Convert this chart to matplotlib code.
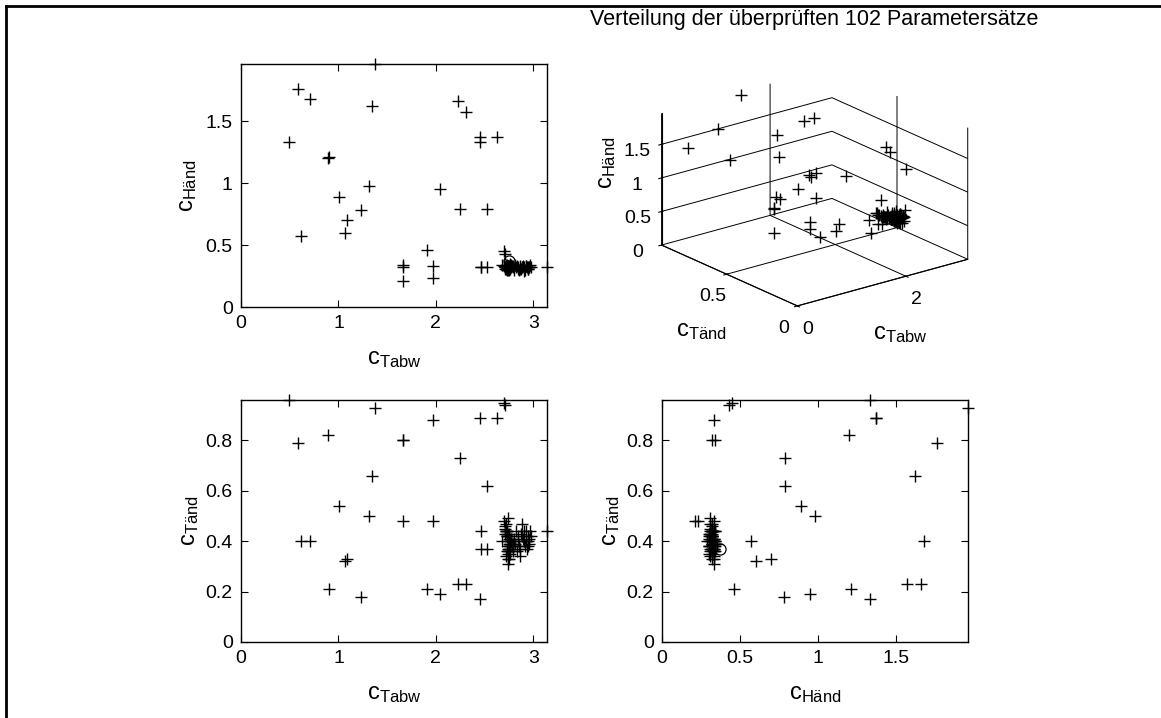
import matplotlib
matplotlib.use("Agg")
import matplotlib.pyplot as plt
from matplotlib.lines import Line2D
import numpy as np

plt.rcParams['font.family'] = ['Liberation Sans', 'DejaVu Sans']
plt.rcParams['mathtext.fontset'] = 'custom'
plt.rcParams['mathtext.rm'] = 'Liberation Sans'
plt.rcParams['grid.color'] = 'k'
plt.rcParams['grid.linewidth'] = 0.7
plt.rcParams['grid.linestyle'] = '-'

# scattered parameter sets (c_Tabw, c_Händ, c_Tänd)
spread_tabw = [1.38, 0.59, 0.71, 1.34, 0.49, 0.89, 0.90, 1.31, 1.01, 1.23,
               1.09, 1.07, 0.62, 2.23, 2.31, 2.45, 2.45, 2.63, 2.04, 2.25,
               2.52, 1.91, 1.66, 1.66, 1.66, 1.97, 1.97, 2.70, 2.71, 2.46,
               2.46, 2.52, 3.14]
spread_hand = [1.96, 1.76, 1.68, 1.62, 1.33, 1.20, 1.21, 0.98, 0.89, 0.78,
               0.70, 0.60, 0.57, 1.66, 1.57, 1.37, 1.33, 1.37, 0.95, 0.79,
               0.79, 0.46, 0.34, 0.32, 0.21, 0.33, 0.23, 0.45, 0.43, 0.32,
               0.32, 0.32, 0.32]
spread_tand = [0.93, 0.79, 0.40, 0.66, 0.96, 0.82, 0.21, 0.50, 0.54, 0.18,
               0.33, 0.32, 0.40, 0.23, 0.23, 0.89, 0.17, 0.89, 0.19, 0.73,
               0.62, 0.21, 0.80, 0.80, 0.48, 0.88, 0.48, 0.95, 0.94, 0.44,
               0.37, 0.37, 0.44]

# dense group of parameter sets
cluster_tabw = [2.72, 2.74, 2.75, 2.73, 2.76, 2.71, 2.74, 2.77, 2.75, 2.73,
                2.70, 2.74, 2.76, 2.72, 2.75, 2.78, 2.73, 2.74, 2.71, 2.76,
                2.75, 2.73, 2.74, 2.77, 2.72, 2.75, 2.76, 2.74, 2.73, 2.79,
                2.68, 2.74, 2.75, 2.72, 2.76, 2.80, 2.74, 2.73, 2.75, 2.77,
                2.71, 2.74, 2.76, 2.82, 2.84, 2.86, 2.88, 2.85, 2.90, 2.92,
                2.94, 2.96, 2.97, 2.93, 2.89, 2.87, 2.95, 2.91, 2.83, 2.98,
                2.86, 2.92, 2.96, 2.81, 2.88, 2.94, 2.79, 2.84, 2.90]
cluster_hand = [0.32, 0.33, 0.31, 0.32, 0.34, 0.32, 0.30, 0.33, 0.32, 0.31,
                0.33, 0.32, 0.31, 0.34, 0.32, 0.33, 0.30, 0.32, 0.31, 0.33,
                0.32, 0.34, 0.31, 0.32, 0.33, 0.30, 0.32, 0.33, 0.31, 0.32,
                0.34, 0.32, 0.33, 0.31, 0.32, 0.30, 0.33, 0.32, 0.31, 0.34,
                0.32, 0.33, 0.35, 0.32, 0.31, 0.33, 0.32, 0.30, 0.32, 0.33,
                0.31, 0.32, 0.34, 0.32, 0.33, 0.31, 0.32, 0.30, 0.33, 0.32,
                0.31, 0.33, 0.32, 0.34, 0.32, 0.31, 0.33, 0.32, 0.29]
cluster_tand = [0.44, 0.40, 0.37, 0.42, 0.38, 0.46, 0.35, 0.41, 0.39, 0.43,
                0.48, 0.36, 0.40, 0.44, 0.33, 0.38, 0.42, 0.37, 0.45, 0.39,
                0.41, 0.36, 0.49, 0.40, 0.34, 0.43, 0.38, 0.31, 0.44, 0.39,
                0.40, 0.42, 0.37, 0.47, 0.35, 0.41, 0.38, 0.44, 0.36, 0.40,
                0.43, 0.33, 0.39, 0.44, 0.40, 0.37, 0.42, 0.38, 0.44, 0.40,
                0.42, 0.39, 0.44, 0.37, 0.41, 0.43, 0.40, 0.38, 0.36, 0.42,
                0.34, 0.44, 0.41, 0.39, 0.47, 0.38, 0.36, 0.42, 0.40]

# marked parameter set (circle)
best_tabw, best_hand, best_tand = 2.75, 0.37, 0.37

tabw = np.array(spread_tabw + cluster_tabw)
hand = np.array(spread_hand + cluster_hand)
tand = np.array(spread_tand + cluster_tand)

lim_tabw, lim_hand, lim_tand = 3.14, 1.96, 0.96

lbl_tabw = r'$\mathregular{c_{Tabw}}$'
lbl_hand = r'$\mathregular{c_{Händ}}$'
lbl_tand = r'$\mathregular{c_{Tänd}}$'

FS = 14
LFS = 17
mk = dict(marker='+', ms=9, mew=1.0, color='k', ls='none')
ck = dict(marker='o', ms=8, mew=0.9, mfc='none', mec='k', ls='none')

W, H = 1161, 718
fig = plt.figure(figsize=(W / 100, H / 100), dpi=100)


def rect(l, r, t, b):
    return [l / W, 1 - b / H, (r - l) / W, (b - t) / H]


def style2d(ax):
    ax.tick_params(direction='in', top=True, right=True, length=5, width=0.8,
                   labelsize=FS, pad=6)
    for s in ax.spines.values():
        s.set_linewidth(1.0)


# top left: c_Tabw vs c_Händ
ax1 = fig.add_axes(rect(241, 547, 64, 307))
ax1.plot(tabw, hand, **mk)
ax1.plot(best_tabw, best_hand, **ck)
ax1.set_xlim(0, lim_tabw)
ax1.set_ylim(0, lim_hand)
ax1.set_xticks([0, 1, 2, 3])
ax1.set_yticks([0, 0.5, 1, 1.5])
ax1.set_yticklabels(['0', '0.5', '1', '1.5'])
ax1.set_xlabel(lbl_tabw, fontsize=LFS, labelpad=11)
ax1.set_ylabel(lbl_hand, fontsize=LFS, labelpad=5)
style2d(ax1)
for ln in ax1.lines:
    ln.set_clip_on(False)

# bottom left: c_Tabw vs c_Tänd
ax3 = fig.add_axes(rect(241, 547, 400, 642))
ax3.plot(tabw, tand, **mk)
ax3.set_xlim(0, lim_tabw)
ax3.set_ylim(0, lim_tand)
ax3.set_xticks([0, 1, 2, 3])
ax3.set_yticks([0, 0.2, 0.4, 0.6, 0.8])
ax3.set_yticklabels(['0', '0.2', '0.4', '0.6', '0.8'])
ax3.set_xlabel(lbl_tabw, fontsize=LFS, labelpad=11)
ax3.set_ylabel(lbl_tand, fontsize=LFS, labelpad=3)
style2d(ax3)
for ln in ax3.lines:
    ln.set_clip_on(False)

# bottom right: c_Händ vs c_Tänd
ax4 = fig.add_axes(rect(662, 968, 400, 642))
ax4.plot(hand, tand, **mk)
ax4.plot(best_hand, best_tand, **ck)
ax4.set_xlim(0, lim_hand)
ax4.set_ylim(0, lim_tand)
ax4.set_xticks([0, 0.5, 1, 1.5])
ax4.set_xticklabels(['0', '0.5', '1', '1.5'])
ax4.set_yticks([0, 0.2, 0.4, 0.6, 0.8])
ax4.set_yticklabels(['0', '0.2', '0.4', '0.6', '0.8'])
ax4.set_xlabel(lbl_hand, fontsize=LFS, labelpad=11)
ax4.set_ylabel(lbl_tand, fontsize=LFS, labelpad=3)
style2d(ax4)
for ln in ax4.lines:
    ln.set_clip_on(False)

# top right: 3d view
ax2 = fig.add_axes(rect(636, 986, 55, 325), projection='3d')
ax2.set_proj_type('ortho')
ax2.view_init(elev=20.5, azim=-128)
ax2.set_box_aspect((1, 1.02, 0.65), zoom=1.22)
ax2.plot(tabw, tand, hand, **mk)
ax2.plot([best_tabw], [best_tand], [best_hand], **ck)
ax2.set_xlim(0, lim_tabw)
ax2.set_ylim(0, lim_tand)
ax2.set_zlim(0, lim_hand)
ax2.set_xticks([0, 2])
ax2.set_xticklabels(['0', '2'])
ax2.set_yticks([0, 0.5])
ax2.set_yticklabels(['0', '0.5'])
ax2.set_zticks([0, 0.5, 1, 1.5])
ax2.set_zticklabels(['0', '0.5', '1', '1.5'])
ax2.tick_params(labelsize=FS, pad=0)
for axis in (ax2.xaxis, ax2.yaxis, ax2.zaxis):
    axis.set_pane_color((1, 1, 1, 0))
    axis.pane.set_edgecolor('none')
    axis.line.set_linewidth(0.8)
ax2.grid(True)
ax2.set_xlabel('')
ax2.set_ylabel('')
ax2.set_zlabel('')
fig.text(900 / W, 1 - 334 / H, lbl_tabw, fontsize=LFS, ha='center', va='center')
fig.text(701 / W, 1 - 331 / H, lbl_tand, fontsize=LFS, ha='center', va='center')
fig.text(607 / W, 1 - 163 / H, lbl_hand, fontsize=LFS, ha='center', va='center',
         rotation=90)

fig.text(814 / W, 1 - 19 / H, 'Verteilung der überprüften 102 Parametersätze',
         ha='center', va='center', fontsize=15.5)

# partial frame of the original figure
fig.add_artist(Line2D([6 / W, 6 / W], [0, 1 - 6 / H], color='k', lw=2))
fig.add_artist(Line2D([6 / W, 1], [1 - 6 / H, 1 - 6 / H], color='k', lw=2))

fig.savefig('out.png', dpi=100)
